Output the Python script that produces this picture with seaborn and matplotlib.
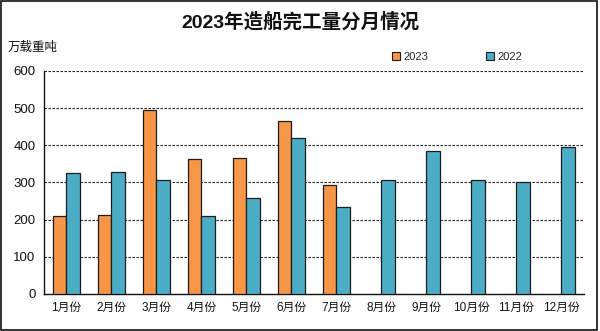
import numpy as np
import pandas as pd
import matplotlib
matplotlib.use("Agg")
import matplotlib.pyplot as plt
import seaborn as sns
from matplotlib.patches import Patch, Rectangle

months = ["1月份", "2月份", "3月份", "4月份", "5月份", "6月份",
          "7月份", "8月份", "9月份", "10月份", "11月份", "12月份"]
values_2023 = [210, 212, 494, 362, 367, 466, 294, np.nan, np.nan, np.nan, np.nan, np.nan]
values_2022 = [325, 327, 306, 210, 257, 421, 233, 308, 386, 306, 301, 395]
series_names = ["2023", "2022"]
colors = ["#F79646", "#4BACC6"]
y_ticks = [0, 100, 200, 300, 400, 500, 600]

df = pd.DataFrame({
    "month": months * 2,
    "year": [series_names[0]] * 12 + [series_names[1]] * 12,
    "value": list(values_2023) + list(values_2022),
})

sns.set_theme(style="white")
plt.rcParams["font.family"] = ["Liberation Sans", "Noto Sans CJK SC", "DejaVu Sans"]

fig = plt.figure(figsize=(6.0, 3.31), dpi=100)
ax = fig.add_axes([0.0733, 0.1118, 0.9, 0.6737])

sns.barplot(data=df, x="month", y="value", hue="year", order=months,
            hue_order=series_names, palette=colors, saturation=1,
            width=0.59, gap=0, edgecolor="#1c1c1c", linewidth=0.9,
            errorbar=None, ax=ax, legend=False, zorder=3)

ax.set_ylim(0, 600)
ax.set_xlim(-0.5, 11.5)
ax.set_yticks(y_ticks)
ax.set_xlabel("")
ax.set_ylabel("")

# dashed horizontal grid
for yv in y_ticks[1:]:
    ax.axhline(yv, color="#222222", lw=0.8, ls=(0, (2.2, 1.4)), zorder=1)

for side in ["top", "right"]:
    ax.spines[side].set_visible(False)
for side in ["left", "bottom"]:
    ax.spines[side].set_color("#111111")
    ax.spines[side].set_linewidth(1.0)

ax.tick_params(axis="y", length=0, labelsize=9.5, pad=6, colors="#111111")
ax.tick_params(axis="x", length=0, labelsize=8.5, pad=6, colors="#111111")
# category boundary ticks
ax.set_xticks(np.arange(0.5, 11.5, 1.0), minor=True)
ax.tick_params(axis="x", which="minor", direction="in", length=4,
               width=0.9, color="#111111")

# legend
handles = [Patch(facecolor=c, edgecolor="#1c1c1c", linewidth=0.8) for c in colors]
ax.legend(handles, series_names, loc="center", bbox_to_anchor=(0.765, 1.063),
          ncol=2, frameon=False, fontsize=8, handlelength=0.75,
          handleheight=0.75, handletextpad=0.3, columnspacing=5.2)

fig.text(0.5, 0.935, "2023年造船完工量分月情况", ha="center", va="center",
         fontsize=14, fontweight="bold", color="#111111")
fig.text(0.013, 0.855, "万载重吨", ha="left", va="center", fontsize=9,
         color="#111111")

# outer frame
fig.patches.append(Rectangle((0.002, 0.004), 0.993, 0.992, transform=fig.transFigure,
                             fill=False, edgecolor="#111111", linewidth=1.2))

fig.savefig("out.png", dpi=100)
